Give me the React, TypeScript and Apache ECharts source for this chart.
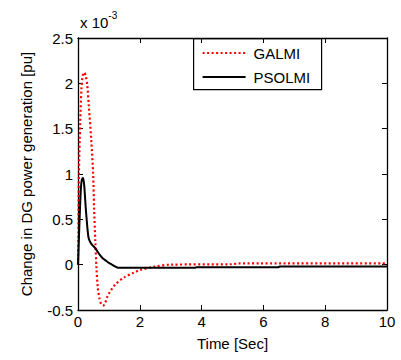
import React, { useEffect, useRef } from "react";
import * as echarts from "echarts";

const galmiT = [0, 0.01, 0.03, 0.07, 0.11, 0.15, 0.2, 0.25, 0.3, 0.35, 0.43, 0.49, 0.52, 0.56, 0.6, 0.64, 0.7, 0.76, 0.82, 0.88, 0.94, 1.0, 1.2, 1.5, 1.8, 2.0, 2.5, 3.0, 5.0, 5.2, 10];
const galmiV = [0, 0.3, 1.0, 1.55, 1.93, 2.08, 2.12, 2.08, 1.98, 1.75, 1.37, 1.0, 0.63, 0.26, -0.05, -0.25, -0.38, -0.44, -0.45, -0.42, -0.36, -0.32, -0.22, -0.14, -0.09, -0.06, -0.02, 0.0, 0.005, 0.015, 0.015];
const psoT = [0, 0.03, 0.06, 0.09, 0.12, 0.16, 0.2, 0.25, 0.3, 0.34, 0.38, 0.45, 0.54, 0.62, 0.7, 0.8, 0.92, 1.0, 1.1, 1.2, 1.3, 3.8, 3.82, 6.5, 6.52, 10];
const psoV = [0, 0.3, 0.58, 0.82, 0.93, 0.96, 0.88, 0.63, 0.42, 0.3, 0.26, 0.22, 0.19, 0.15, 0.11, 0.07, 0.04, 0.02, 0.0, -0.02, -0.035, -0.035, -0.028, -0.028, -0.02, -0.02];

const xTicks = { min: 0, max: 10, interval: 2 };
const yTicks = { min: -0.5, max: 2.5, interval: 0.5 };
const legendNames = ["GALMI", "PSOLMI"];

const FONT = "'Liberation Sans', Arial, sans-serif";
const RED = "#ff0000";
const RED_DASH = [2, 2.5];

export default function App() {
  const ref = useRef<HTMLDivElement>(null);
  useEffect(() => {
    const chart = echarts.init(ref.current!, null, { renderer: "svg" });
    const axisLine = { show: true, onZero: false, lineStyle: { color: "#000", width: 1.3 } };
    const tick = { show: true, inside: true, length: 5, lineStyle: { color: "#000", width: 1 } };
    chart.setOption({
      animation: false,
      backgroundColor: "#fff",
      grid: { left: 78, right: 14, top: 38, bottom: 50, containLabel: false },
      xAxis: [
        {
          type: "value", ...xTicks, name: "Time [Sec]", nameLocation: "middle", nameGap: 26,
          nameTextStyle: { fontFamily: FONT, fontSize: 15, color: "#000" },
          axisLine, axisTick: tick, splitLine: { show: false },
          axisLabel: { fontFamily: FONT, fontSize: 15, color: "#000", margin: 4 },
        },
        {
          type: "value", ...xTicks, position: "top", axisLine, axisTick: tick,
          axisLabel: { show: false }, splitLine: { show: false },
        },
      ],
      yAxis: [
        {
          type: "value", ...yTicks, name: "Change in DG power generation [pu]", nameLocation: "middle", nameGap: 44,
          nameTextStyle: { fontFamily: FONT, fontSize: 15, color: "#000" },
          axisLine, axisTick: tick, splitLine: { show: false },
          axisLabel: { fontFamily: FONT, fontSize: 15, color: "#000", margin: 5 },
        },
        {
          type: "value", ...yTicks, position: "right", axisLine, axisTick: tick,
          axisLabel: { show: false }, splitLine: { show: false },
        },
      ],
      graphic: [
        {
          type: "text", left: 80, top: 10,
          style: {
            text: "{a|x 10}{b|-3}", fill: "#000",
            rich: {
              a: { fontFamily: FONT, fontSize: 15, fill: "#000", verticalAlign: "bottom" },
              b: { fontFamily: FONT, fontSize: 10, fill: "#000", verticalAlign: "top", padding: [0, 0, 10, 0] },
            },
          },
        },
        {
          type: "group", left: 193, top: 38,
          children: [
            { type: "rect", shape: { x: 0, y: 0, width: 128, height: 51 }, style: { fill: "#fff", stroke: "#000", lineWidth: 1.2 } },
            { type: "line", shape: { x1: 9, y1: 14.5, x2: 52, y2: 14.5 }, style: { stroke: RED, lineWidth: 2, lineDash: RED_DASH } },
            { type: "text", x: 60, y: 14.5, style: { text: legendNames[0], fontFamily: FONT, fontSize: 15, fill: "#000", verticalAlign: "middle" } },
            { type: "line", shape: { x1: 9, y1: 38.5, x2: 52, y2: 38.5 }, style: { stroke: "#000", lineWidth: 2 } },
            { type: "text", x: 60, y: 38.5, style: { text: legendNames[1], fontFamily: FONT, fontSize: 15, fill: "#000", verticalAlign: "middle" } },
          ],
        },
      ],
      series: [
        {
          name: legendNames[0], type: "line", data: galmiT.map((t, i) => [t, galmiV[i]]),
          showSymbol: false, symbol: "none", smooth: 0.3,
          lineStyle: { color: RED, width: 2.2, type: RED_DASH }, itemStyle: { color: RED },
        },
        {
          name: legendNames[1], type: "line", data: psoT.map((t, i) => [t, psoV[i]]),
          showSymbol: false, symbol: "none", smooth: 0.2,
          lineStyle: { color: "#000", width: 2 }, itemStyle: { color: "#000" },
        },
      ],
    });
    return () => chart.dispose();
  }, []);
  return <div ref={ref} style={{ width: 401, height: 360, position: "absolute", left: 0, top: 0 }} />;
}
